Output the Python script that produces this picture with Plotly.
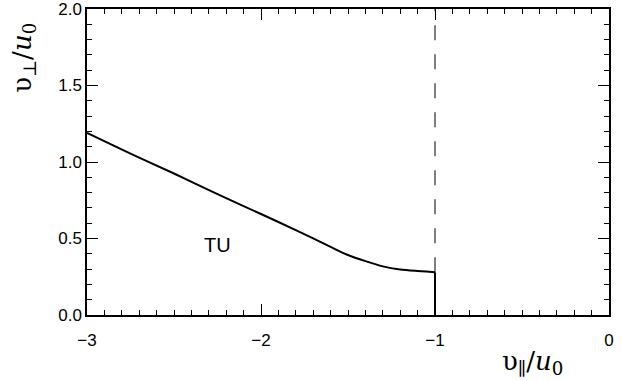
import plotly.graph_objects as go

# Data
curve_x = [-3.0, -2.75, -2.5, -2.25, -2.0, -1.8, -1.6, -1.5, -1.4, -1.3, -1.2, -1.1, -1.05, -1.0]
curve_y = [1.19, 1.055, 0.925, 0.79, 0.66, 0.555, 0.445, 0.392, 0.352, 0.318, 0.298, 0.288, 0.284, 0.28]
drop_x = [-1.0, -1.0]
drop_y = [0.28, 0.0]
dash_x = [-1.0, -1.0]
dash_y = [0.28, 2.0]
label_text = "TU"
label_pos = (-2.25, 0.455)
x_range = [-3, 0]
y_range = [0, 2]
x_ticks = [-3, -2, -1, 0]
x_ticklabels = ["−3", "−2", "−1", "0"]
y_ticks = [0.0, 0.5, 1.0, 1.5, 2.0]

fig = go.Figure()
fig.add_trace(go.Scatter(x=dash_x, y=dash_y, mode="lines",
                         line=dict(color="#555555", width=1.5, dash="15px,14px"),
                         hoverinfo="skip"))
fig.add_trace(go.Scatter(x=curve_x, y=curve_y, mode="lines",
                         line=dict(color="black", width=2, shape="spline", smoothing=0.8)))
fig.add_trace(go.Scatter(x=drop_x, y=drop_y, mode="lines",
                         line=dict(color="black", width=2)))
# invisible trace carrying the label-only x axis
fig.add_trace(go.Scatter(x=x_range, y=y_range, mode="markers", xaxis="x2", yaxis="y",
                         marker=dict(opacity=0, size=1), hoverinfo="skip"))

fig.add_annotation(x=label_pos[0], y=label_pos[1], text=label_text, showarrow=False,
                   font=dict(family="Liberation Sans, Arial, sans-serif", size=20, color="black"))

title_font = dict(family="DejaVu Serif, serif", size=26, color="black")
fig.add_annotation(xref="paper", yref="paper", x=-0.121, y=0.84,
                   text="υ<sub>⊥</sub>/<i>u</i><sub>0</sub>", textangle=-90,
                   showarrow=False, font=title_font, xanchor="center", yanchor="middle")
fig.add_annotation(xref="paper", yref="paper", x=0.853, y=-0.155,
                   text="υ<sub>∥</sub>/<i>u</i><sub>0</sub>",
                   showarrow=False, font=title_font, xanchor="center", yanchor="middle")

tickfont = dict(family="Liberation Sans, Arial, sans-serif", size=17, color="black")

fig.update_layout(
    template="none",
    width=622, height=380, showlegend=False,
    paper_bgcolor="white", plot_bgcolor="white",
    margin=dict(l=87, r=13, t=9, b=65),
    xaxis=dict(range=x_range, tickmode="array", tickvals=x_ticks, showticklabels=False,
               showgrid=False, zeroline=False, showline=True, linecolor="black", linewidth=1.5,
               mirror="ticks", ticks="inside", ticklen=11, tickwidth=1.3, tickcolor="black",
               minor=dict(ticks="inside", tick0=-3, dtick=0.1, ticklen=5, tickwidth=1, tickcolor="black")),
    xaxis2=dict(range=x_range, overlaying="x", anchor="y", side="bottom",
                tickmode="array", tickvals=x_ticks, ticktext=x_ticklabels,
                showgrid=False, zeroline=False, showline=False,
                ticks="outside", ticklen=10, tickcolor="rgba(0,0,0,0)",
                tickfont=tickfont, ticklabeloverflow="allow"),
    yaxis=dict(range=y_range, tickmode="array", tickvals=y_ticks, tickformat=".1f", ticksuffix="  ",
               showgrid=False, zeroline=False, showline=True, linecolor="black", linewidth=1.5,
               mirror="ticks", ticks="inside", ticklen=11, tickwidth=1.3, tickcolor="black",
               minor=dict(ticks="inside", tick0=0, dtick=0.1, ticklen=5, tickwidth=1, tickcolor="black"),
               tickfont=tickfont, ticklabeloverflow="allow"),
)

fig.write_html("out.html")
